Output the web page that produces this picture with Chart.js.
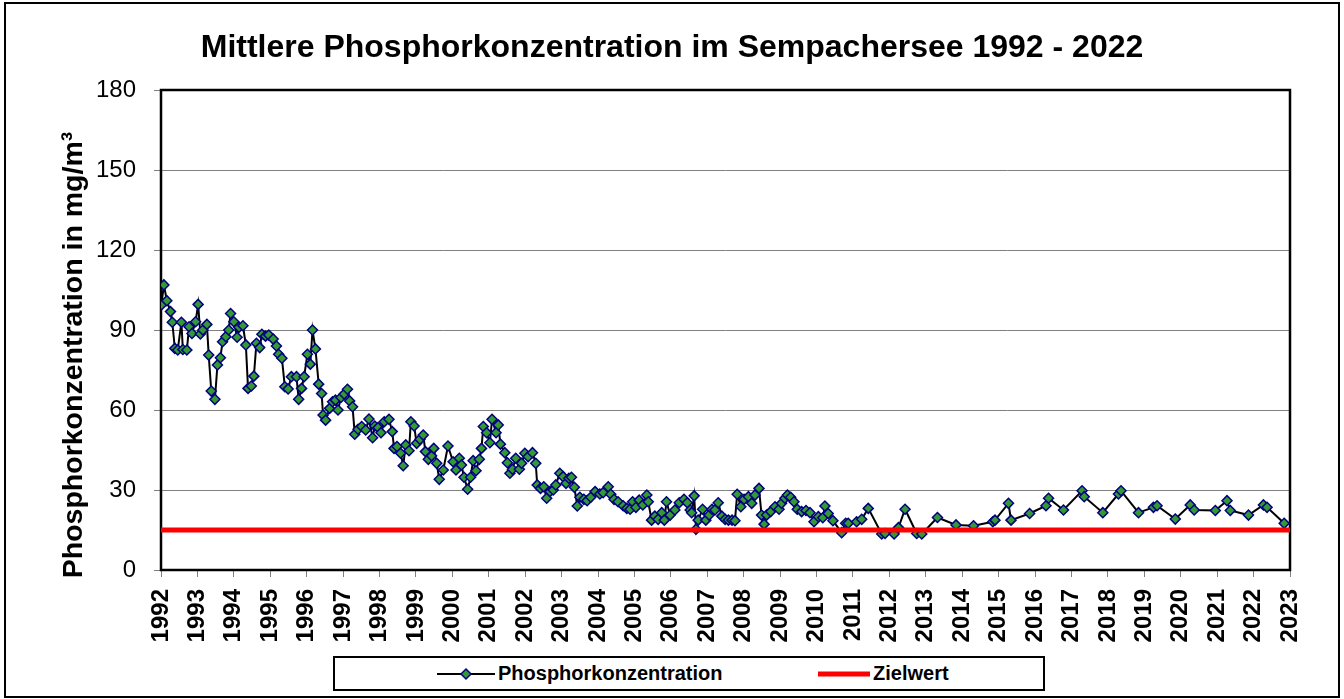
<!DOCTYPE html>
<html>
<head>
<meta charset="utf-8">
<script src="https://cdn.jsdelivr.net/npm/chart.js@4.4.1/dist/chart.umd.min.js"></script>
<style>
  html, body { margin: 0; padding: 0; background: #fff; }
  #wrap { position: relative; width: 1344px; height: 699px; overflow: hidden; background: #fff; }
  #c { position: absolute; left: 0; top: 0; }
  #frame { position: absolute; left: 4px; top: 2px; width: 1332px; height: 692px; border: 2px solid #000; pointer-events: none; }
  #legend { position: absolute; left: 333px; top: 656px; width: 708px; height: 31px; border: 2px solid #000; background: #fff;
            font-family: "Liberation Sans", Arial, sans-serif; font-weight: bold; font-size: 20px; color: #000; }
  .li { position: absolute; top: 0; height: 31px; display: flex; align-items: center; }
  .li svg { display: block; margin-right: 3px; }
</style>
</head>
<body>
<div id="wrap">
  <canvas id="c" width="1344" height="699"></canvas>
  <div id="frame"></div>
  <div id="legend">
    <div class="li" style="left:102px">
      <svg width="58" height="14" viewBox="0 0 58 14"><line x1="0" y1="7" x2="58" y2="7" stroke="#000" stroke-width="2"/><polygon points="29,2 34,7 29,12 24,7" fill="#339933" stroke="#000080" stroke-width="1.5"/></svg>
      <span>Phosphorkonzentration</span>
    </div>
    <div class="li" style="left:483px">
      <svg width="52" height="14" viewBox="0 0 52 14"><line x1="0" y1="7" x2="52" y2="7" stroke="#ff0000" stroke-width="5"/></svg>
      <span>Zielwert</span>
    </div>
  </div>
</div>
<script>
const titleText = "Mittlere Phosphorkonzentration im Sempachersee 1992 - 2022";
const yAxisTitle = "Phosphorkonzentration in mg/m³";
const seriesName = "Phosphorkonzentration";
const targetName = "Zielwert";
const yTicks = [0, 30, 60, 90, 120, 150, 180];
const xStart = 1992, xEnd = 2023;
const targetValue = 15;

const years = [1992.01,1992.08,1992.16,1992.26,1992.31,1992.38,1992.46,1992.56,1992.60,1992.71,1992.77,1992.85,1992.95,
1993.02,1993.08,1993.15,1993.26,1993.31,1993.38,1993.48,1993.55,1993.63,1993.69,1993.78,1993.86,1993.91,
1994.00,1994.09,1994.14,1994.25,1994.33,1994.39,1994.48,1994.55,1994.62,1994.71,1994.77,1994.87,1994.96,
1995.08,1995.17,1995.23,1995.32,1995.40,1995.49,1995.58,1995.72,1995.78,1995.86,1995.93,
1996.02,1996.10,1996.16,1996.24,1996.33,1996.41,1996.45,1996.52,1996.63,1996.71,1996.79,1996.86,1996.94,
1997.03,1997.12,1997.18,1997.26,1997.32,1997.41,1997.51,1997.62,1997.71,1997.81,1997.87,1997.96,
1998.04,1998.13,1998.26,1998.35,1998.40,1998.48,1998.58,1998.65,1998.72,1998.81,1998.86,1998.95,
1999.02,1999.11,1999.20,1999.26,1999.34,1999.43,1999.49,1999.57,1999.64,1999.75,1999.88,
2000.02,2000.10,2000.19,2000.25,2000.32,2000.42,2000.50,2000.57,2000.65,2000.74,2000.80,2000.85,2000.94,
2001.03,2001.09,2001.20,2001.26,2001.32,2001.44,2001.51,2001.58,2001.65,2001.74,2001.84,2001.90,2001.99,
2002.08,2002.20,2002.29,2002.33,2002.42,2002.51,2002.59,2002.68,2002.77,2002.84,2002.95,
2003.04,2003.12,2003.20,2003.27,2003.35,2003.43,2003.50,2003.61,2003.70,2003.80,2003.92,
2004.05,2004.14,2004.28,2004.35,2004.44,2004.55,2004.69,2004.79,2004.88,2004.95,
2005.04,2005.13,2005.23,2005.34,2005.38,2005.47,2005.56,2005.65,2005.75,2005.82,2005.88,2005.98,
2006.11,2006.23,2006.36,2006.45,2006.53,2006.57,2006.64,2006.69,2006.75,2006.87,2006.96,
2007.05,2007.13,2007.21,2007.30,2007.40,2007.49,2007.58,2007.68,2007.76,2007.82,2007.92,
2008.01,2008.13,2008.22,2008.31,2008.42,2008.49,2008.56,2008.63,2008.74,2008.86,2008.97,
2009.04,2009.13,2009.20,2009.29,2009.38,2009.47,2009.59,2009.71,2009.82,2009.93,
2010.05,2010.17,2010.23,2010.32,2010.45,2010.69,2010.80,2010.87,
2011.10,2011.24,2011.42,2011.79,2011.88,
2012.13,2012.25,2012.43,2012.75,2012.89,
2013.32,2013.83,2014.31,2014.84,2014.90,2015.27,2015.34,2015.85,2016.30,2016.37,2016.78,
2017.29,2017.35,2017.86,2018.29,2018.36,2018.84,2019.25,2019.35,2019.85,2020.26,2020.37,2020.95,
2021.27,2021.36,2021.86,2022.27,2022.37,2022.84];

const phosphor = [99.4,106.9,101,96.9,92.9,83.1,82.5,92.9,82.7,82.5,91.2,88.7,93.1,
99.6,88.5,90,92.1,80.6,67.1,64,76.9,79.6,85.6,87.5,90,96.2,
93.1,87.3,91,91.6,84.4,68.1,69,72.7,85,83.4,88.4,87.7,88.1,
86.6,84,80.9,79.4,68.7,67.9,72.5,72.5,64,68.1,72.5,
80.9,77.2,90,82.9,69.7,66.2,58.1,56.2,60.6,63.1,63.7,60,64.7,
66,67.8,63.4,61.2,50.9,52.8,53.8,52.5,56.6,49.6,54,53.4,
51.5,55.6,56.5,51.9,45.6,46.3,43.8,39.1,46.9,44.7,55.6,54,
47.5,49,50.6,44.4,41.5,42.8,45.6,40,34,37.5,46.5,
40.6,37.5,41.9,39.4,34.8,30.3,34.8,41,37.2,41.5,45.6,53.8,51.5,
47.7,56.5,51.5,54.4,47.2,44,40.2,36.3,37.8,41.9,37.8,40,43.8,
42.5,44,40,31.9,30.6,31.2,26.9,29.4,30,31.9,36.3,
35,32.5,34.4,34.8,31,24,27.3,26.5,26,27.3,29.4,
28.5,29,31.2,28.4,26.5,25.6,24.1,23.1,22.8,25.6,
23.5,26.2,24.4,28.1,25.6,18.7,20.2,19,21.5,18.7,25.6,20.6,
22.5,25.2,26.5,25.2,22.5,21.5,27.8,15.3,18.7,22.8,18.7,
20.6,22.8,22.5,25.2,20.2,19,18.7,18.7,18.5,28.4,23.7,
26.5,27.5,25,28.1,30.6,20.6,17.2,20.6,21.9,23.7,22.8,
25,26.9,28.1,27.3,25.6,22.8,21.9,22.3,21.5,18.1,
20,19.6,24,21.2,18.5,14,17.5,17.5,
18.1,19,23.1,13.5,13.7,
13.5,15.9,22.8,13.7,13.5,
19.7,16.9,16.6,18.1,18.7,25,18.7,21.2,24.1,26.9,22.5,
29.7,27.5,21.5,28.5,29.7,21.5,23.5,24.1,19.1,24.4,22.5,22.3,
26,22.3,20.6,24.4,23.5,17.5];

const FONT = '"Liberation Sans", Arial, sans-serif';

const frameBorder = {
  id: 'frameBorder',
  beforeDatasetsDraw(chart) {
    const {ctx, chartArea: a} = chart;
    ctx.save();
    ctx.strokeStyle = '#000';
    ctx.lineWidth = 2.5;
    ctx.strokeRect(a.left, a.top, a.right - a.left, a.bottom - a.top);
    ctx.restore();
  }
};

// y-axis title, drawn a little below the plot centre as in the original
const yTitlePlugin = {
  id: 'yTitlePlugin',
  afterDraw(chart) {
    const {ctx, chartArea: a} = chart;
    ctx.save();
    ctx.translate(74, (a.top + a.bottom) / 2 + 25);
    ctx.rotate(-Math.PI / 2);
    ctx.fillStyle = '#000';
    ctx.font = 'bold 28.5px ' + FONT;
    ctx.textAlign = 'center';
    ctx.textBaseline = 'middle';
    ctx.fillText(yAxisTitle, 0, 0);
    ctx.restore();
  }
};

new Chart(document.getElementById('c'), {
  type: 'line',
  data: {
    datasets: [
      {
        label: targetName,
        data: [{x: xStart, y: targetValue}, {x: xEnd, y: targetValue}],
        borderColor: '#ff0000',
        borderWidth: 5,
        pointRadius: 0,
        order: 0
      },
      {
        label: seriesName,
        data: years.map((x, i) => ({x, y: phosphor[i]})),
        borderColor: '#000000',
        borderWidth: 2,
        pointStyle: 'rectRot',
        pointRadius: 5,
        pointBackgroundColor: '#339933',
        pointBorderColor: '#000080',
        pointBorderWidth: 1.5,
        tension: 0,
        order: 1
      }
    ]
  },
  plugins: [frameBorder, yTitlePlugin],
  options: {
    responsive: false,
    animation: false,
    layout: { padding: 0 },
    plugins: {
      legend: { display: false },
      tooltip: { enabled: false },
      title: {
        display: true,
        text: titleText,
        color: '#000',
        font: { family: FONT, size: 32, weight: 'bold' },
        padding: { top: 29, bottom: 22.6 }
      }
    },
    scales: {
      x: {
        type: 'linear',
        min: xStart, max: xEnd,
        afterFit(s) { s.height = 129; },
        grid: { drawOnChartArea: false, drawTicks: true, tickLength: 7, tickColor: '#808080', lineWidth: 1 },
        border: { display: false },
        ticks: {
          stepSize: 1, autoSkip: false, minRotation: 90, maxRotation: 90, padding: 12,
          color: '#000', font: { family: FONT, size: 24, weight: 'bold' },
          callback: (v) => String(v)
        }
      },
      y: {
        min: 0, max: 180,
        afterFit(s) { s.width = 161; },
        afterBuildTicks(s) { s.ticks = yTicks.map(v => ({value: v})); },
        grid: { color: '#808080', lineWidth: 1, tickLength: 7, tickColor: '#808080' },
        border: { display: false },
        ticks: { padding: 18, color: '#000', font: { family: FONT, size: 24 } },
        title: { display: false, text: yAxisTitle }
      },
      yR: {
        position: 'right', min: 0, max: 180,
        afterFit(s) { s.width = 54; },
        grid: { display: false }, border: { display: false },
        ticks: { display: false }
      }
    }
  }
});
</script>
</body>
</html>
